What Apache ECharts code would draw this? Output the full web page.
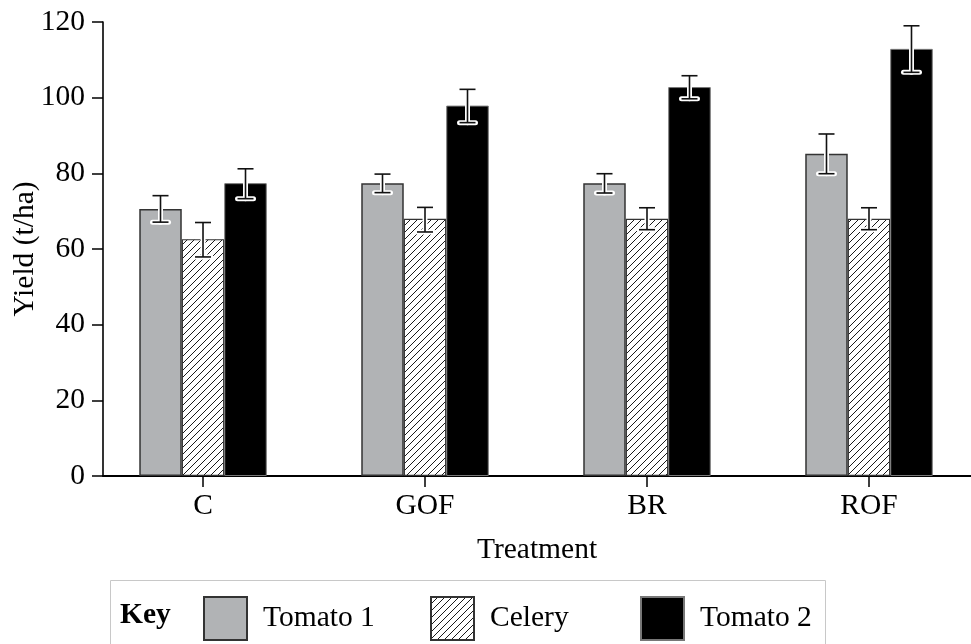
<!DOCTYPE html>
<html>
<head>
<meta charset="utf-8">
<script src="https://cdn.jsdelivr.net/npm/echarts@6/dist/echarts.min.js"></script>
<style>html,body{margin:0;padding:0;background:#fff;}#c{width:971px;height:644px;}</style>
</head>
<body>
<div id="c"></div>
<script>
const categories = ['C', 'GOF', 'BR', 'ROF'];
const seriesNames = ['Tomato 1', 'Celery', 'Tomato 2'];
const tomato1 = [70.6, 77.4, 77.4, 85.2];
const celery = [62.6, 68.0, 68.0, 68.0];
const tomato2 = [77.4, 97.9, 102.8, 112.9];
const tomato1Low = [67.1, 74.9, 74.8, 79.9];
const tomato1High = [74.1, 79.8, 79.9, 90.4];
const celeryLow = [57.9, 64.5, 65.1, 65.1];
const celeryHigh = [67.0, 71.0, 70.9, 70.9];
const tomato2Low = [73.3, 93.4, 99.7, 106.7];
const tomato2High = [81.2, 102.2, 105.8, 119.0];
const categoryIndex = [0, 1, 2, 3];

const FONT = 'Liberation Serif';
const FS = 29.5;
const BAR_W = 42.5;

const hatch = document.createElement('canvas');
hatch.width = 7; hatch.height = 7;
(function () {
  const g = hatch.getContext('2d');
  g.fillStyle = '#fff'; g.fillRect(0, 0, 7, 7);
  g.strokeStyle = '#000'; g.lineWidth = 0.9;
  [-7, 0, 7].forEach(function (o) { g.beginPath(); g.moveTo(o, 7); g.lineTo(o + 7, 0); g.stroke(); });
})();

function barData(vals) { return vals.map(function (v, i) { return [categoryIndex[i], v]; }); }
function errData(lo, hi) { return lo.map(function (v, i) { return [categoryIndex[i], v, hi[i]]; }); }

function errSeries(name, lo, hi, slot) {
  return {
    type: 'custom', name: name, z: 10, silent: true,
    data: errData(lo, hi),
    encode: { x: 0, y: [1, 2] },
    renderItem: function (params, api) {
      const x = api.value(0);
      const pLo = api.coord([x, api.value(1)]);
      const pHi = api.coord([x, api.value(2)]);
      const cx = pLo[0] + slot * BAR_W;
      const hw = 8;
      const segs = [
        [cx, pLo[1], cx, pHi[1]],
        [cx - hw, pHi[1], cx + hw, pHi[1]],
        [cx - hw, pLo[1], cx + hw, pLo[1]]
      ];
      const children = [];
      segs.forEach(function (s) {
        children.push({ type: 'line', shape: { x1: s[0], y1: s[1], x2: s[2], y2: s[3] },
          style: { stroke: '#fff', lineWidth: 5, lineCap: 'round' } });
      });
      segs.forEach(function (s) {
        children.push({ type: 'line', shape: { x1: s[0], y1: s[1], x2: s[2], y2: s[3] },
          style: { stroke: '#111', lineWidth: 1.6, lineCap: 'butt' } });
      });
      return { type: 'group', children: children };
    }
  };
}

const chart = echarts.init(document.getElementById('c'), null, { renderer: 'canvas' });
chart.setOption({
  animation: false,
  backgroundColor: '#fff',
  grid: { left: 103, right: 0, top: 22, bottom: 168, containLabel: false, outerBoundsMode: 'none' },
  xAxis: {
    type: 'value', min: -0.4505, max: 3.4595,
    name: 'Treatment', nameLocation: 'middle', nameGap: 59, nameMoveOverlap: false,
    nameTextStyle: { fontFamily: FONT, fontSize: FS, color: '#000' },
    splitLine: { show: false },
    axisLine: { show: true, onZero: false, lineStyle: { color: '#000', width: 2 } },
    axisTick: { show: true, customValues: categoryIndex, length: 11, lineStyle: { color: '#000', width: 1.5 } },
    axisLabel: { show: true, customValues: categoryIndex, margin: 15,
      formatter: function (v) { return categories[Math.round(v)]; },
      fontFamily: FONT, fontSize: FS, color: '#000' }
  },
  yAxis: {
    type: 'value', min: 0, max: 120, interval: 20,
    name: 'Yield (t/ha)', nameLocation: 'middle', nameGap: 63, nameMoveOverlap: false,
    nameTextStyle: { fontFamily: FONT, fontSize: FS, color: '#000' },
    splitLine: { show: false },
    axisLine: { show: true, onZero: false, lineStyle: { color: '#000', width: 1.6 } },
    axisTick: { show: true, length: 11, lineStyle: { color: '#000', width: 1.5 } },
    axisLabel: { margin: 18, fontFamily: FONT, fontSize: FS, color: '#000' }
  },
  title: {
    text: 'Key', left: 110, top: 580,
    padding: [20, 655, 20, 10],
    borderColor: '#c8c8c8', borderWidth: 1,
    textStyle: { fontFamily: FONT, fontSize: FS, fontWeight: 'bold', color: '#000' }
  },
  legend: [
    { data: [seriesNames[0]], left: 198, top: 591 },
    { data: [seriesNames[1]], left: 425, top: 591 },
    { data: [seriesNames[2]], left: 635, top: 591 }
  ].map(function (l) {
    return Object.assign(l, { icon: 'rect', itemWidth: 43, itemHeight: 43, selectedMode: false,
      textStyle: { fontFamily: FONT, fontSize: FS, color: '#000', padding: [0, 0, 0, 11] } });
  }),
  series: [
    { type: 'bar', name: seriesNames[0], data: barData(tomato1), barWidth: BAR_W, barGap: '0%',
      itemStyle: { color: '#b1b3b5', borderColor: '#333', borderWidth: 1.5 } },
    { type: 'bar', name: seriesNames[1], data: barData(celery), barWidth: BAR_W, barGap: '0%',
      itemStyle: { color: { image: hatch, repeat: 'repeat' }, borderColor: '#333', borderWidth: 1.2 } },
    { type: 'bar', name: seriesNames[2], data: barData(tomato2), barWidth: BAR_W, barGap: '0%',
      itemStyle: { color: '#000', borderColor: '#777', borderWidth: 1 } },
    errSeries('e1', tomato1Low, tomato1High, -1),
    errSeries('e2', celeryLow, celeryHigh, 0),
    errSeries('e3', tomato2Low, tomato2High, 1)
  ]
});
</script>
</body>
</html>
